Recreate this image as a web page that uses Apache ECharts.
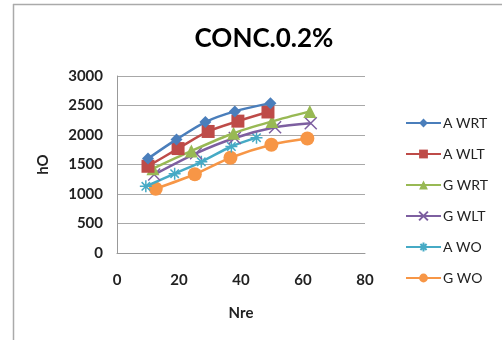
<!DOCTYPE html>
<html><head><meta charset="utf-8">
<script src="https://cdn.jsdelivr.net/npm/echarts@6/dist/echarts.min.js"></script>
<style>html,body{margin:0;padding:0;background:#fff}#c{width:502px;height:340px}</style>
</head><body><div id="c"></div>
<script>
const titleText = "CONC.0.2%";
const xName = "Nre";
const yName = "hO";
const seriesNames = ["A WRT","A WLT","G WRT","G WLT","A WO","G WO"];
const aWRT = [[10,1600],[19.2,1925],[28.5,2220],[38,2400],[49.5,2540]];
const aWLT = [[10,1470],[19.7,1770],[29.4,2060],[39,2235],[48.7,2390]];
const gWRT = [[11.6,1430],[24,1730],[37.6,2030],[50,2230],[62.2,2400]];
const gWLT = [[12,1330],[25.5,1690],[38,1950],[51,2130],[62.5,2200]];
const aWO  = [[9.3,1130],[18.6,1345],[27.2,1545],[36.9,1805],[45,1955]];
const gWO  = [[12.5,1090],[25.1,1335],[36.6,1615],[49.8,1835],[61.4,1940]];
const colors = ["#4a7ebb","#be4b48","#98b954","#7d5fa0","#46aac5","#f79646"];
const symbols = ["diamond","rect","triangle","path://M0,0L10,10M10,0L0,10","path://M5,0L5,10M0,5L10,5M1.5,1.5L8.5,8.5M8.5,1.5L1.5,8.5","circle"];
const symSizes = [12,13,13,12,12,14];
const allData = [aWRT,aWLT,gWRT,gWLT,aWO,gWO];
const font = "Lato, 'Liberation Sans', sans-serif";
const chart = echarts.init(document.getElementById('c'));
chart.setOption({
  animation:false,
  backgroundColor:'#fff',
  title:{text:titleText,left:259,top:21,textAlign:'center',textStyle:{fontFamily:font,fontSize:26,fontWeight:'bold',color:'#000'}},
  grid:{left:117,right:137,top:76,bottom:87},
  legend:{orient:'vertical',left:400,top:111,itemGap:17,itemWidth:35,itemHeight:11,
    textStyle:{fontFamily:font,fontSize:14,color:'#222',padding:[0,0,0,-3]},
    data:seriesNames},
  xAxis:{type:'value',min:0,max:80,interval:20,name:xName,nameLocation:'middle',nameGap:53,
    nameTextStyle:{fontFamily:font,fontSize:15,fontWeight:'bold',color:'#222'},
    axisLine:{show:true,lineStyle:{color:'#999'}},axisTick:{show:false},splitLine:{show:false},
    axisLabel:{fontFamily:font,fontSize:15,fontWeight:'bold',color:'#222',margin:20}},
  yAxis:{type:'value',min:0,max:3000,interval:500,name:yName,nameLocation:'middle',nameGap:66,
    nameTextStyle:{fontFamily:font,fontSize:15,fontWeight:'bold',color:'#222'},
    axisLine:{show:true,lineStyle:{color:'#999'}},axisTick:{show:false},
    splitLine:{lineStyle:{color:'#a8a8a8'}},
    axisLabel:{fontFamily:font,fontSize:15,fontWeight:'bold',color:'#222',margin:14,formatter:v=>String(v)}},
  series:allData.map((d,i)=>({
    name:seriesNames[i],type:'line',smooth:0.3,data:d,
    symbol:symbols[i],symbolSize:symSizes[i],
    lineStyle:{width:2.5,color:colors[i]},
    itemStyle:{color:colors[i],borderColor:colors[i],borderWidth:(i===3||i===4)?1.5:0},
    z:10-i
  })),
  graphic:[
    {type:'line',shape:{x1:13,y1:4.5,x2:502,y2:4.5},style:{stroke:'#aaa',lineWidth:1.5},silent:true},
    {type:'line',shape:{x1:13.5,y1:4,x2:13.5,y2:340},style:{stroke:'#aaa',lineWidth:1.5},silent:true}
  ]
});
</script></body></html>
